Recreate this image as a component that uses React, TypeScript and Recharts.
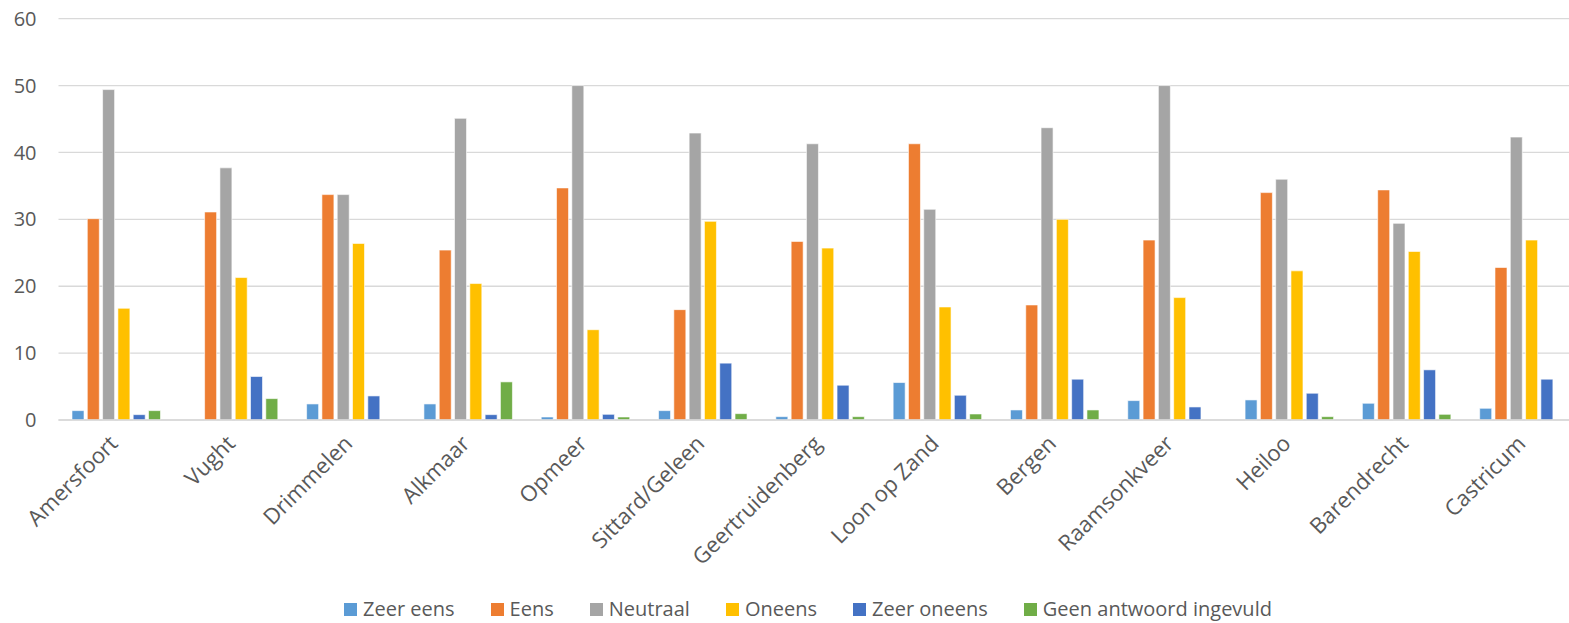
import React from 'react';
import { BarChart, Bar, XAxis, YAxis, CartesianGrid } from 'recharts';

const gemeenten = [
  'Amersfoort', 'Vught', 'Drimmelen', 'Alkmaar', 'Opmeer', 'Sittard/Geleen', 'Geertruidenberg',
  'Loon op Zand', 'Bergen', 'Raamsonkveer', 'Heiloo', 'Barendrecht', 'Castricum',
];

const zeerEens = [1.4, 0, 2.4, 2.4, 0.45, 1.4, 0.5, 5.6, 1.5, 2.9, 3.0, 2.5, 1.75];
const eens = [30.1, 31.1, 33.7, 25.4, 34.7, 16.5, 26.7, 41.3, 17.2, 26.9, 34.0, 34.4, 22.8];
const neutraal = [49.4, 37.7, 33.7, 45.1, 50.0, 42.9, 41.3, 31.5, 43.7, 50.0, 36.0, 29.4, 42.3];
const oneens = [16.7, 21.3, 26.4, 20.4, 13.5, 29.7, 25.7, 16.9, 30.0, 18.3, 22.3, 25.2, 26.9];
const zeerOneens = [0.8, 6.5, 3.6, 0.8, 0.85, 8.5, 5.2, 3.7, 6.1, 1.95, 4.0, 7.5, 6.1];
const geenAntwoord = [1.4, 3.2, 0, 5.7, 0.45, 0.95, 0.5, 0.9, 1.5, 0, 0.5, 0.85, 0];

const yTicks = [0, 10, 20, 30, 40, 50, 60];

const series = [
  { key: 'zeerEens', name: 'Zeer eens', color: '#5B9BD5', values: zeerEens },
  { key: 'eens', name: 'Eens', color: '#ED7D31', values: eens },
  { key: 'neutraal', name: 'Neutraal', color: '#A5A5A5', values: neutraal },
  { key: 'oneens', name: 'Oneens', color: '#FFC000', values: oneens },
  { key: 'zeerOneens', name: 'Zeer oneens', color: '#4472C4', values: zeerOneens },
  { key: 'geen', name: 'Geen antwoord ingevuld', color: '#70AD47', values: geenAntwoord },
];

const data = gemeenten.map((name, i) => {
  const row: Record<string, string | number> = { name };
  series.forEach((s) => {
    row[s.key] = s.values[i];
  });
  return row;
});

const FONT = '"Open Sans", "Noto Sans", sans-serif';
const TEXT = '#595959';

const CategoryTick = (props: any) => {
  const { x, y, payload } = props;
  return (
    <g transform={`translate(${x + 2},${y + 17})`}>
      <text textAnchor="end" transform="rotate(-45)" fill={TEXT} fontSize={22} fontFamily={FONT}>
        {payload.value}
      </text>
    </g>
  );
};

const App = () => {
  return (
    <div
      style={{
        position: 'absolute',
        left: 0,
        top: 0,
        width: 1569,
        height: 623,
        overflow: 'hidden',
        background: '#fff',
      }}
    >
      <BarChart
        width={1620}
        height={623}
        data={data}
        margin={{ top: 18.7, right: 36.5, left: 0, bottom: 0 }}
        barCategoryGap={13.5}
        barGap={3.3}
      >
        <CartesianGrid vertical={false} stroke="#d9d9d9" strokeWidth={1.3} />
        <XAxis
          dataKey="name"
          height={203}
          interval={0}
          tickLine={false}
          axisLine={{ stroke: '#d9d9d9', strokeWidth: 1.3 }}
          tick={<CategoryTick />}
        />
        <YAxis
          width={58.5}
          domain={[0, 60]}
          ticks={yTicks}
          axisLine={false}
          tickLine={false}
          tickSize={0}
          tickMargin={22}
          tick={{ fill: TEXT, fontSize: 20, fontFamily: FONT }}
        />
        {series.map((s) => (
          <Bar
            key={s.key}
            dataKey={s.key}
            name={s.name}
            fill={s.color}
            stroke="#ffffff"
            strokeWidth={0.6}
            isAnimationActive={false}
          />
        ))}
      </BarChart>
      <div
        style={{
          position: 'absolute',
          left: 0,
          width: 1616,
          top: 597,
          display: 'flex',
          justifyContent: 'center',
          gap: 36,
          fontFamily: FONT,
          fontSize: 20,
          color: TEXT,
          lineHeight: '24px',
        }}
      >
        {series.map((s) => (
          <div key={s.key} style={{ display: 'flex', alignItems: 'center', gap: 6 }}>
            <span style={{ width: 13, height: 13, background: s.color, display: 'inline-block' }} />
            <span>{s.name}</span>
          </div>
        ))}
      </div>
    </div>
  );
};

export default App;
